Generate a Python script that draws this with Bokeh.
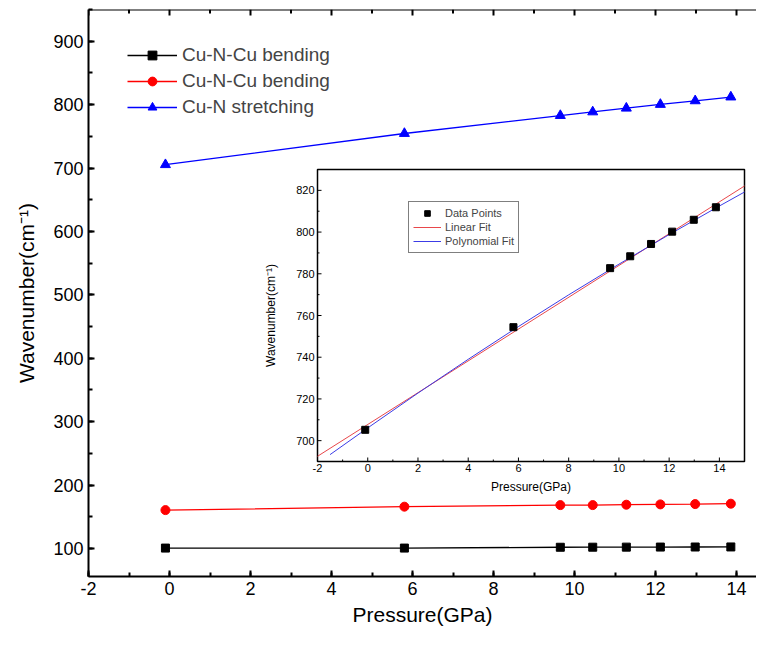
from math import pi
from bokeh.plotting import figure
from bokeh.models import (Range1d, Legend, LegendItem, SingleIntervalTicker, Span,
                          NumeralTickFormatter)
from bokeh.core.properties import value
from bokeh.embed import file_html
from bokeh.resources import INLINE

# ---------------- data ----------------
pressure = [-0.1, 5.8, 9.65, 10.45, 11.28, 12.12, 12.98, 13.86]
bend_a = [100.5, 100.5, 101.8, 101.9, 102.0, 102.1, 102.2, 102.3]
bend_b = [160.4, 165.8, 168.3, 168.3, 168.9, 169.4, 169.9, 170.5]
stretch = [705.2, 754.4, 782.7, 788.4, 794.3, 800.2, 805.9, 811.9]

lin_x = [-2.0, 15.0]
lin_y = [692.5, 822.1]
poly_x = [-1.5, 0, 2, 4, 6, 8, 10, 12, 14, 15]
poly_y = [693.3, 706.1, 722.8, 739.0, 754.7, 769.9, 784.6, 798.8, 812.5, 819.2]

labels_main = ["Cu-N-Cu bending", "Cu-N-Cu bending", "Cu-N stretching"]
labels_inset = ["Data Points", "Linear Fit", "Polynomial Fit"]

main_x_major = [-2, 0, 2, 4, 6, 8, 10, 12, 14]
main_x_minor = [-1, 1, 3, 5, 7, 9, 11, 13]
inset_x_major = [-2, 0, 2, 4, 6, 8, 10, 12, 14]
inset_x_minor = [-1, 1, 3, 5, 7, 9, 11, 13]
inset_y_major = [700, 720, 740, 760, 780, 800, 820]
inset_y_minor = [690, 710, 730, 750, 770, 790, 810, 830]

FONT = "Liberation Sans"

# ---------------- main figure ----------------
W, H = 756, 632
BL, BR, BT, BB = 88, 0, 9, 56
FW, FH = W - BL - BR, H - BT - BB
X0, X1 = -2.0, -2.0 + FW / 40.5
Y1 = 950.0
Y0 = Y1 - FH / 0.634
ux = (X1 - X0) / FW
uy = (Y1 - Y0) / FH

p = figure(width=W, height=H, x_range=Range1d(X0, X1), y_range=Range1d(Y0, Y1),
           output_backend="svg", toolbar_location=None,
           min_border_left=BL, min_border_right=BR, min_border_top=BT, min_border_bottom=BB)
p.xgrid.visible = False
p.ygrid.visible = False
p.outline_line_color = None

p.xaxis.ticker = SingleIntervalTicker(interval=2, num_minor_ticks=2)
p.yaxis.ticker = SingleIntervalTicker(interval=100, num_minor_ticks=2)
p.xaxis.formatter = NumeralTickFormatter(format="0")
for ax in (p.xaxis, p.yaxis):
    ax.axis_line_width = 2
    ax.major_tick_in = 6
    ax.major_tick_out = 0
    ax.minor_tick_in = 4
    ax.minor_tick_out = 0
    ax.major_tick_line_width = 2
    ax.minor_tick_line_width = 2
    ax.major_label_text_font = FONT
    ax.major_label_text_font_size = "18px"
    ax.major_label_text_color = "black"
    ax.axis_label_text_font = FONT
    ax.axis_label_text_font_size = "21px"
    ax.axis_label_text_font_style = "normal"
    ax.axis_label_text_color = "black"
    ax.major_label_standoff = 5
    ax.axis_label_standoff = 5
p.yaxis.major_label_standoff = 5
p.yaxis.axis_label_standoff = 12
p.xaxis.axis_label = "Pressure(GPa)"
p.yaxis.axis_label = "Wavenumber(cm\u207b\u00b9)"

# top frame line with inward ticks
p.add_layout(Span(location=Y1, dimension="width", line_color="black", line_width=2))
p.segment(x0=main_x_major, y0=[Y1] * len(main_x_major), x1=main_x_major,
          y1=[Y1 - 6 * uy] * len(main_x_major), line_color="black", line_width=2)
p.segment(x0=main_x_minor, y0=[Y1] * len(main_x_minor), x1=main_x_minor,
          y1=[Y1 - 4 * uy] * len(main_x_minor), line_color="black", line_width=2)

ra_l = p.line(pressure, bend_a, color="black", line_width=1.3)
ra_s = p.scatter(pressure, bend_a, marker="square", size=8, color="black")
rb_l = p.line(pressure, bend_b, color="red", line_width=1.3)
rb_s = p.scatter(pressure, bend_b, marker="circle", size=9, color="red")
rc_l = p.line(pressure, stretch, color="blue", line_width=1.3)
rc_s = p.scatter(pressure, stretch, marker="triangle", size=10, color="blue")

LEG_H = 3 * 22 + 2 * 4
leg = Legend(items=[LegendItem(label=labels_main[0], renderers=[ra_l, ra_s]),
                    LegendItem(label=labels_main[1], renderers=[rb_l, rb_s]),
                    LegendItem(label=labels_main[2], renderers=[rc_l, rc_s])],
             location=(39, FH - 35 - LEG_H), glyph_width=50, glyph_height=22, label_height=22,
             spacing=4, padding=0, margin=0, label_standoff=5,
             border_line_color=None, background_fill_alpha=0,
             label_text_font=FONT, label_text_font_size="19px")
p.add_layout(leg)

# ---------------- inset (sub-coordinates inside the main frame) ----------------
IX0, IX1 = -2.0, 15.0
IY0, IY1 = 690.0, 830.0
# inset frame, in pixels from the main frame's left / bottom
IL, IR, IB, IT = 229, 656, 115, 407
iux = (IX1 - IX0) / (IR - IL)
iuy = (IY1 - IY0) / (IT - IB)

sub = p.subplot(x_source=Range1d(IX0, IX1), y_source=Range1d(IY0, IY1),
                x_target=Range1d(X0 + IL * ux, X0 + IR * ux),
                y_target=Range1d(Y0 + IB * uy, Y0 + IT * uy))

sub.quad(left=[IX0], right=[IX1], bottom=[IY0], top=[IY1],
         fill_color="white", line_color="black", line_width=1.5)

# inset ticks (inward)
sub.segment(x0=inset_x_major, y0=[IY0] * len(inset_x_major), x1=inset_x_major,
            y1=[IY0 + 4 * iuy] * len(inset_x_major), line_color="black", line_width=1)
sub.segment(x0=inset_x_minor, y0=[IY0] * len(inset_x_minor), x1=inset_x_minor,
            y1=[IY0 + 2 * iuy] * len(inset_x_minor), line_color="black", line_width=1)
sub.segment(x0=[IX0] * len(inset_y_major), y0=inset_y_major,
            x1=[IX0 + 4 * iux] * len(inset_y_major), y1=inset_y_major,
            line_color="black", line_width=1)
sub.segment(x0=[IX0] * len(inset_y_minor), y0=inset_y_minor,
            x1=[IX0 + 2 * iux] * len(inset_y_minor), y1=inset_y_minor,
            line_color="black", line_width=1)

# inset tick labels
sub.text(x=inset_x_major, y=[IY0] * len(inset_x_major), text=[str(v) for v in inset_x_major],
         text_align="center", text_baseline="top", y_offset=2,
         text_font=value(FONT), text_font_size="11px", text_color="black")
sub.text(x=[IX0] * len(inset_y_major), y=inset_y_major, text=[str(v) for v in inset_y_major],
         text_align="right", text_baseline="middle", x_offset=-3,
         text_font=value(FONT), text_font_size="11px", text_color="black")
sub.text(x=[(IX0 + IX1) / 2], y=[IY0], text=["Pressure(GPa)"],
         text_align="center", text_baseline="middle", y_offset=25,
         text_font=value(FONT), text_font_size="12px", text_color="black")
sub.text(x=[IX0], y=[(IY0 + IY1) / 2], text=["Wavenumber(cm\u207b\u00b9)"], angle=pi / 2,
         text_align="center", text_baseline="middle", x_offset=-47,
         text_font=value(FONT), text_font_size="12px", text_color="black")

rl = sub.line(lin_x, lin_y, color="#e8474b", line_width=1)
rp = sub.line(poly_x, poly_y, color="#3c3ce6", line_width=1)
rd = sub.scatter(pressure, stretch, marker="square", size=7, color="black")

leg2 = Legend(items=[LegendItem(label=labels_inset[0], renderers=[rd]),
                     LegendItem(label=labels_inset[1], renderers=[rl]),
                     LegendItem(label=labels_inset[2], renderers=[rp])],
              location=(320, 323), glyph_width=28, glyph_height=14, label_height=14,
              spacing=0, padding=4, margin=0, label_standoff=4,
              border_line_color="black", border_line_width=1,
              background_fill_color="white", background_fill_alpha=1,
              label_text_font=FONT, label_text_font_size="11px")
p.add_layout(leg2)

open("out.html", "w").write(file_html(p, INLINE))
